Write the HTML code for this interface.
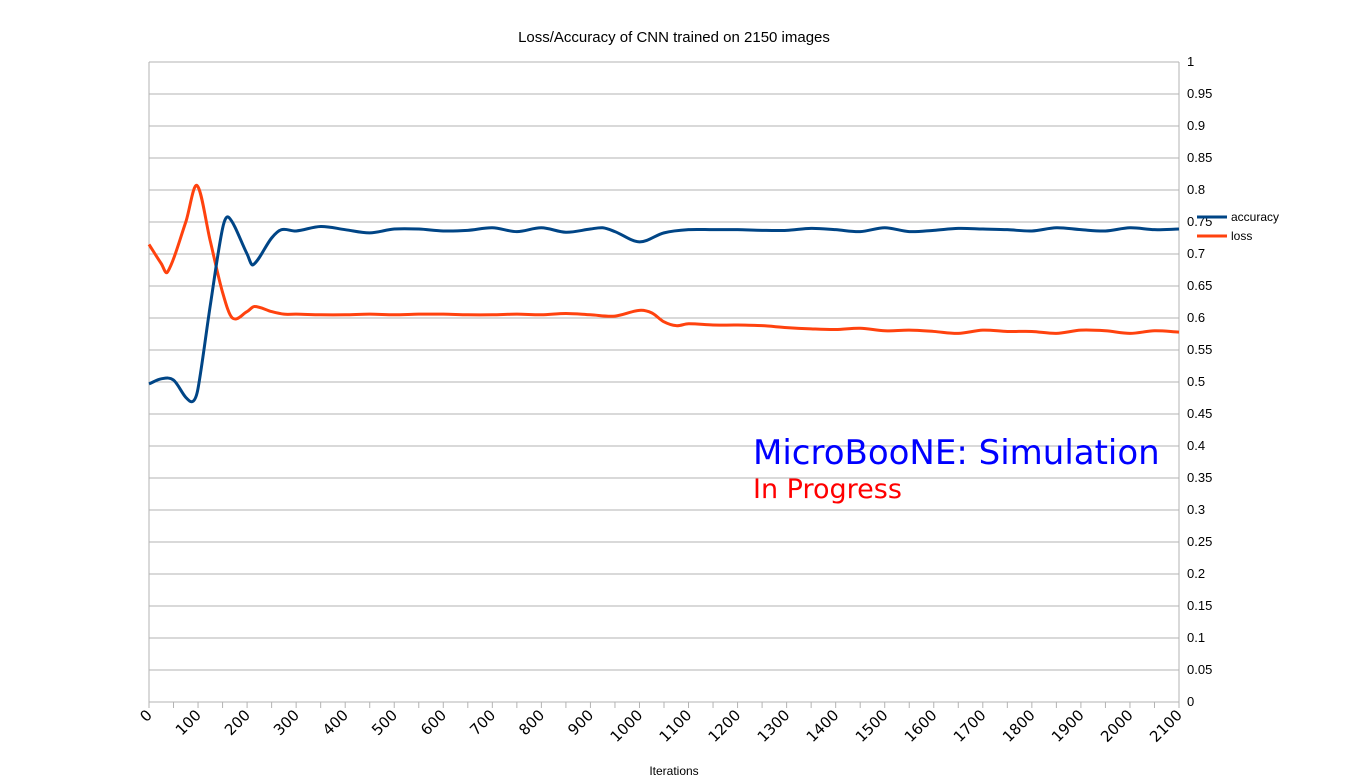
<!DOCTYPE html>
<html><head><meta charset="utf-8"><style>
body{margin:0;background:#fff}
svg{display:block;font-family:"Liberation Sans","DejaVu Sans",sans-serif}
</style></head><body>
<svg id="chart" width="1350" height="782" viewBox="0 0 1350 782">
<text x="674" y="42" font-size="15" text-anchor="middle" fill="#000">Loss/Accuracy of CNN trained on 2150 images</text>
<g id="grid"></g>
<g id="yaxis"></g>
<g id="xaxis"></g>
<g id="series"></g>
<text x="674" y="775" font-size="12" text-anchor="middle">Iterations</text>
<g>
<g><line x1="1197" y1="217" x2="1227" y2="217" stroke="#004586" stroke-width="3"/><text x="1231" y="221" font-size="12">accuracy</text></g>
<g><line x1="1197" y1="236" x2="1227" y2="236" stroke="#ff420e" stroke-width="3"/><text x="1231" y="240" font-size="12">loss</text></g>
</g>
<text x="753" y="464" font-size="34" fill="#0000ff" font-family="DejaVu Sans, sans-serif">MicroBooNE: Simulation</text>
<text x="753" y="498" font-size="27" fill="#ff0000" font-family="DejaVu Sans, sans-serif">In Progress</text>
</svg>
<script>
const accX=[0,25,50,75,90,100,125,150,163,200,212,250,270,300,350,400,450,500,550,600,650,700,750,800,850,900,925,950,1000,1050,1100,1150,1200,1250,1300,1350,1400,1450,1500,1550,1600,1650,1700,1750,1800,1850,1900,1950,2000,2050,2100];
const accY=[0.497,0.505,0.503,0.476,0.47,0.49,0.62,0.74,0.757,0.70,0.683,0.725,0.738,0.736,0.743,0.738,0.733,0.739,0.739,0.736,0.737,0.741,0.735,0.741,0.734,0.739,0.741,0.735,0.719,0.733,0.738,0.738,0.738,0.737,0.737,0.740,0.738,0.735,0.741,0.735,0.737,0.740,0.739,0.738,0.736,0.741,0.738,0.736,0.741,0.738,0.739];
const lossX=[0,25,38,75,98,125,150,170,200,215,250,275,300,350,400,450,500,550,600,650,700,750,800,850,900,950,1000,1025,1050,1075,1100,1150,1200,1250,1300,1350,1400,1450,1500,1550,1600,1650,1700,1750,1800,1850,1900,1950,2000,2050,2100];
const lossY=[0.715,0.685,0.672,0.75,0.807,0.72,0.64,0.600,0.61,0.618,0.61,0.606,0.606,0.605,0.605,0.606,0.605,0.606,0.606,0.605,0.605,0.606,0.605,0.607,0.605,0.603,0.612,0.608,0.594,0.588,0.591,0.589,0.589,0.588,0.585,0.583,0.582,0.584,0.580,0.581,0.579,0.576,0.581,0.579,0.579,0.576,0.581,0.580,0.576,0.580,0.578];
const yTicks=[0,0.05,0.1,0.15,0.2,0.25,0.3,0.35,0.4,0.45,0.5,0.55,0.6,0.65,0.7,0.75,0.8,0.85,0.9,0.95,1];
const xLabels=[0,100,200,300,400,500,600,700,800,900,1000,1100,1200,1300,1400,1500,1600,1700,1800,1900,2000,2100];
const NS="http://www.w3.org/2000/svg";
const L=149,R=1179,T=62,B=702,XMAX=2100;
const sx=v=>L+(R-L)*v/XMAX, sy=v=>B-(B-T)*v;
function mk(t,a,p){const e=document.createElementNS(NS,t);for(const k in a)e.setAttribute(k,a[k]);p.appendChild(e);return e;}
const grid=document.getElementById('grid'),ya=document.getElementById('yaxis'),xa=document.getElementById('xaxis'),se=document.getElementById('series');
yTicks.forEach(v=>{
  const g=mk('line',{x1:L,x2:R,y1:sy(v),y2:sy(v),stroke:'#b3b3b3','stroke-width':1},grid);
  
  
  const t=mk('text',{x:R+8,y:sy(v)+4,'font-size':13},ya);
  t.textContent=String(v);
  
  
});
mk('line',{x1:L,x2:L,y1:T,y2:B+6,stroke:'#b3b3b3'},grid);
mk('line',{x1:R,x2:R,y1:T,y2:B+6,stroke:'#b3b3b3'},grid);
for(let v=0;v<=XMAX;v+=50){mk('line',{x1:sx(v),x2:sx(v),y1:B,y2:B+6,stroke:'#b3b3b3'},xa);}
xLabels.forEach(v=>{
  const x=sx(v)+4,y=B+14;
  const t=mk('text',{x:x,y:y,'font-size':15,'text-anchor':'end','font-family':'DejaVu Sans, sans-serif',transform:`rotate(-45 ${x} ${y})`},xa);
  t.textContent=String(v);
  
  
});
function path(xs,ys){
  const P=xs.map((x,i)=>[sx(x),sy(ys[i])]);
  const n=P.length,m=[];
  for(let i=0;i<n;i++){
    const a=P[Math.max(0,i-1)],b=P[Math.min(n-1,i+1)];
    m.push((b[1]-a[1])/(b[0]-a[0]));
  }
  let d=`M${P[0][0]},${P[0][1]}`;
  for(let i=0;i<n-1;i++){
    const p1=P[i],p2=P[i+1],h=(p2[0]-p1[0])/3;
    d+=`C${p1[0]+h},${p1[1]+m[i]*h} ${p2[0]-h},${p2[1]-m[i+1]*h} ${p2[0]},${p2[1]}`;
  }
  return d;
}
const pl=mk('path',{d:path(lossX,lossY),fill:'none',stroke:'#ff420e','stroke-width':3},se);


const pa=mk('path',{d:path(accX,accY),fill:'none',stroke:'#004586','stroke-width':3},se);


</script>
</body></html>
